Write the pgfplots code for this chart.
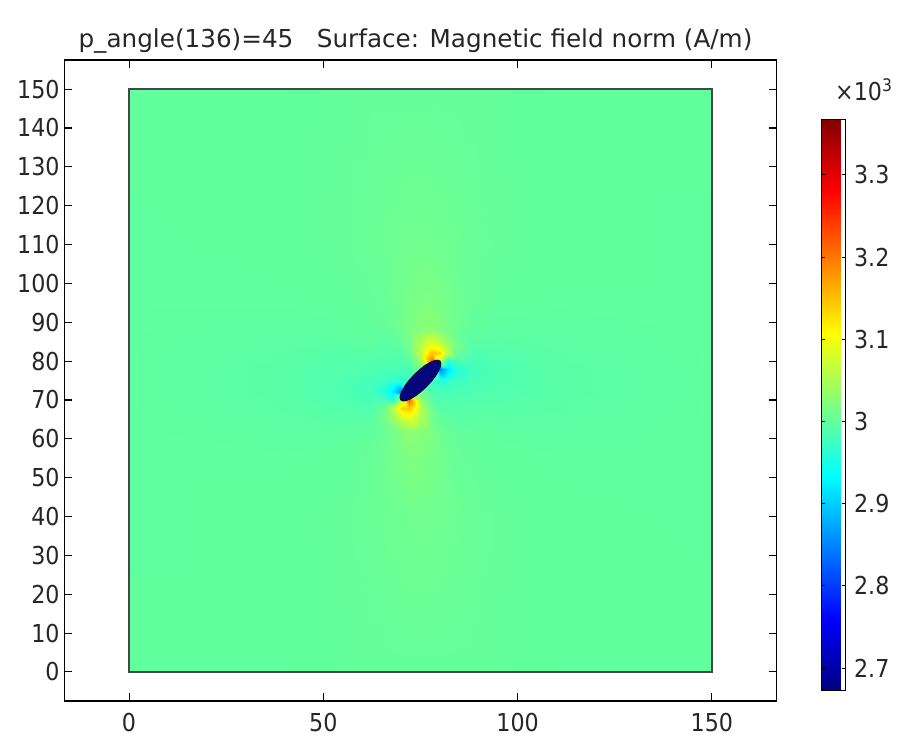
\documentclass[border=0pt]{standalone}
\usepackage{fontspec}
\setmainfont{DejaVu Sans Condensed}
\newfontfamily\titlefamily{DejaVu Sans}
\usepackage{pgfplots}
\usepackage{pgfplotstable}
\pgfplotsset{compat=1.18}

% |H| (A/m) sampled on a rectilinear grid, x varies fastest (17 x 17 nodes)
\pgfplotstableread{
x y v
0 0 3000
40 0 3000
55 0 3001
62 0 3002
66 0 3002
68 0 3002
70 0 3002
72 0 3002
75 0 3002
78 0 3002
80 0 3002
82 0 3002
84 0 3002
88 0 3002
95 0 3001
110 0 3000
150 0 3000
0 40 2999
40 40 3000
55 40 3002
62 40 3005
66 40 3007
68 40 3008
70 40 3009
72 40 3010
75 40 3010
78 40 3010
80 40 3009
82 40 3008
84 40 3007
88 40 3005
95 40 3002
110 40 3000
150 40 2999
0 55 2999
40 55 2999
55 55 3000
62 55 3004
66 55 3009
68 55 3013
70 55 3016
72 55 3019
75 55 3018
78 55 3014
80 55 3010
82 55 3007
84 55 3004
88 55 3002
95 55 3000
110 55 2999
150 55 2999
0 62 2999
40 62 2997
55 62 2997
62 62 3000
66 62 3007
68 62 3014
70 62 3023
72 62 3030
75 62 3026
78 62 3016
80 62 3009
82 62 3005
84 62 3002
88 62 3000
95 62 2998
110 62 2997
150 62 2999
0 66 2999
40 66 2996
55 66 2993
62 66 2993
66 66 3015
68 66 3045
70 66 3080
72 66 3100
75 66 3055
78 66 3010
80 66 3000
82 66 2996
84 66 2994
88 66 2997
95 66 2995
110 66 2996
150 66 2999
0 68 2999
40 68 2995
55 68 2990
62 68 2988
66 68 3008
68 68 3060
70 68 3135
72 68 3150
75 68 3060
78 68 3005
80 68 2994
82 68 2992
84 68 2992
88 68 2994
95 68 2993
110 68 2995
150 68 2999
0 70 2999
40 70 2995
55 70 2988
62 70 2983
66 70 2980
68 70 2955
70 70 3060
72 70 3210
75 70 3040
78 70 2995
80 70 2988
82 70 2988
84 70 2990
88 70 2991
95 70 2991
110 70 2995
150 70 2999
0 72 2999
40 72 2994
55 72 2987
62 72 2980
66 72 2955
68 72 2915
70 72 2850
72 72 3040
75 72 3015
78 72 2988
80 72 2984
82 72 2984
84 72 2985
88 72 2987
95 72 2989
110 72 2994
150 72 2999
0 75 2999
40 75 2994
55 75 2987
62 75 2982
66 75 2975
68 75 2968
70 75 2965
72 75 2972
75 75 2990
78 75 2972
80 75 2965
82 75 2968
84 75 2975
88 75 2982
95 75 2987
110 75 2994
150 75 2999
0 78 2999
40 78 2994
55 78 2989
62 78 2987
66 78 2985
68 78 2984
70 78 2984
72 78 2988
75 78 3015
78 78 3040
80 78 2850
82 78 2915
84 78 2955
88 78 2980
95 78 2987
110 78 2994
150 78 2999
0 80 2999
40 80 2995
55 80 2991
62 80 2991
66 80 2990
68 80 2988
70 80 2988
72 80 2995
75 80 3040
78 80 3210
80 80 3060
82 80 2955
84 80 2980
88 80 2983
95 80 2988
110 80 2995
150 80 2999
0 82 2999
40 82 2995
55 82 2993
62 82 2994
66 82 2992
68 82 2992
70 82 2994
72 82 3005
75 82 3060
78 82 3150
80 82 3135
82 82 3060
84 82 3008
88 82 2988
95 82 2990
110 82 2995
150 82 2999
0 84 2999
40 84 2996
55 84 2995
62 84 2997
66 84 2994
68 84 2996
70 84 3000
72 84 3010
75 84 3055
78 84 3100
80 84 3080
82 84 3045
84 84 3015
88 84 2993
95 84 2993
110 84 2996
150 84 2999
0 88 2999
40 88 2997
55 88 2998
62 88 3000
66 88 3002
68 88 3005
70 88 3009
72 88 3016
75 88 3026
78 88 3030
80 88 3023
82 88 3014
84 88 3007
88 88 3000
95 88 2997
110 88 2997
150 88 2999
0 95 2999
40 95 2999
55 95 3000
62 95 3002
66 95 3004
68 95 3007
70 95 3010
72 95 3014
75 95 3018
78 95 3019
80 95 3016
82 95 3013
84 95 3009
88 95 3004
95 95 3000
110 95 2999
150 95 2999
0 110 2999
40 110 3000
55 110 3002
62 110 3005
66 110 3007
68 110 3008
70 110 3009
72 110 3010
75 110 3010
78 110 3010
80 110 3009
82 110 3008
84 110 3007
88 110 3005
95 110 3002
110 110 3000
150 110 2999
0 150 3000
40 150 3000
55 150 3001
62 150 3002
66 150 3002
68 150 3002
70 150 3002
72 150 3002
75 150 3002
78 150 3002
80 150 3002
82 150 3002
84 150 3002
88 150 3002
95 150 3001
110 150 3000
150 150 3000
}\fieldtable

\newcommand{\labelfont}{\fontsize{18.5}{22}\selectfont}

\begin{document}
\begin{tikzpicture}
\begin{axis}[
  name=main,
  x=2.9135pt, y=2.9135pt,
  xmin=-16.67, xmax=166.67,
  ymin=-7.5, ymax=157.5,
  axis line style={line width=1pt},
  xtick={0,50,100,150},
  ytick={0,10,...,150},
  tick align=inside,
  major tick length=6pt,
  tick style={black, line width=0.8pt},
  every tick label/.append style={font=\labelfont, text=black!85},
  xticklabel style={yshift=-5.5pt},
  /pgf/number format/assume math mode=true,
  colormap/jet,
  point meta min=2673, point meta max=3368,
  title={p\_angle(136)=45\ \ \ Surface: Magnetic field norm (A/m)},
  title style={font=\titlefamily\labelfont, text=black!85, at={(0.493,1)}, anchor=base, yshift=3.5pt},
  colorbar,
  colorbar style={
    at={(parent axis.north east)}, anchor=north west,
    xshift=25pt, yshift=-44.25pt,
    scale only axis,
    width=18pt, height=428.3pt,
    axis line style={line width=0.7pt},
    ytick={2700,2800,2900,3000,3100,3200,3300},
    yticklabels={2.7,2.8,2.9,3,3.1,3.2,3.3},
    ytick pos=both, yticklabel pos=right,
    tick align=inside, major tick length=2.5pt,
    tick style={black, line width=0.6pt},
    yticklabel style={font=\labelfont, text=black!85, xshift=3pt},
  },
]
  % field magnitude over the square domain
  \addplot[surf, shader=interp, mesh/cols=17, mesh/rows=17, point meta=explicit]
    table[x=x, y=y, meta=v] {\fieldtable};
  % domain outline
  \addplot[draw={rgb,255:red,70;green,70;blue,70}, line width=1pt]
    coordinates {(0,0) (150,0) (150,150) (0,150)} --cycle;
  % tilted elliptic inclusion, lowest field value
  \addplot[fill={rgb,255:red,6;green,6;blue,124}, draw={rgb,255:red,10;green,10;blue,60}, line width=0.7pt]
    coordinates {
      (80.02,80.02) (79.45,80.25) (78.57,80.13) (77.45,79.65) (76.16,78.86) (74.80,77.80)
      (73.44,76.56) (72.20,75.20) (71.14,73.84) (70.35,72.55) (69.88,71.43) (69.75,70.55)
      (69.98,69.98) (70.55,69.75) (71.43,69.88) (72.55,70.35) (73.84,71.14) (75.20,72.20)
      (76.56,73.44) (77.80,74.80) (78.86,76.16) (79.65,77.45) (80.13,78.57) (80.25,79.45)
    } --cycle;
\end{axis}
\node[anchor=base west, inner sep=0pt, font=\labelfont, text=black!85]
  at ([xshift=43.7pt, yshift=-30pt]main.north east) {×10\textsuperscript{3}};
\pgfresetboundingbox
\path[use as bounding box] ([xshift=-48.2pt, yshift=-26.5pt]main.south west)
  rectangle ([xshift=103pt, yshift=45pt]main.north east);
\end{tikzpicture}
\end{document}
